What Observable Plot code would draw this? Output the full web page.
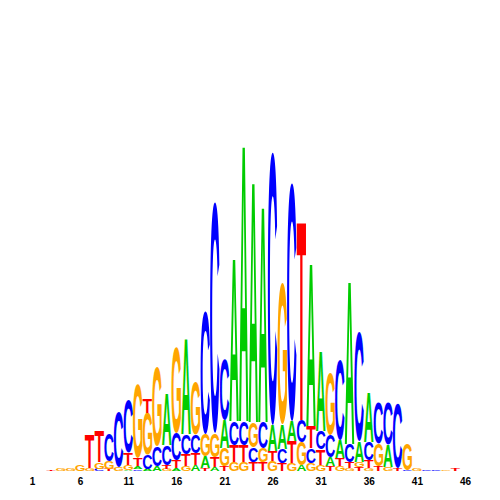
<!DOCTYPE html>
<html><head><meta charset="utf-8">
<script src="https://cdn.jsdelivr.net/npm/d3@7"></script>
<script src="https://cdn.jsdelivr.net/npm/@observablehq/plot@0.6"></script>
<style>body{margin:0;background:#fff}</style>
</head><body><div id="chart"></div>
<script>
const bases = ["A", "C", "G", "T"];
const baseColors = ["#00cc00", "#0000ff", "#ffa500", "#ff0000"];
const positions = [1,2,3,4,5,6,7,8,9,10,11,12,13,14,15,16,17,18,19,20,21,22,23,24,25,26,27,28,29,30,31,32,33,34,35,36,37,38,39,40,41,42,43,44,45,46];
const tickLabels = [1, 6, 11, 16, 21, 26, 31, 36, 41, 46];
// letter heights in bits, listed bottom to top for each position
const stacks = [
  [],
  [],
  [["T", 0.008]],
  [["G", 0.01]],
  [["G", 0.015]],
  [["G", 0.035]],
  [["G", 0.015], ["T", 0.17]],
  [["C", 0.01], ["G", 0.035], ["T", 0.155]],
  [["T", 0.01], ["G", 0.04], ["C", 0.14]],
  [["G", 0.02], ["C", 0.275]],
  [["A", 0.005], ["G", 0.025], ["T", 0.06], ["C", 0.26]],
  [["C", 0.008], ["A", 0.015], ["T", 0.04], ["G", 0.37]],
  [["A", 0.01], ["C", 0.07], ["G", 0.21], ["T", 0.07]],
  [["A", 0.025], ["C", 0.10], ["G", 0.395]],
  [["G", 0.01], ["T", 0.02], ["C", 0.10], ["A", 0.26]],
  [["A", 0.015], ["T", 0.04], ["C", 0.135], ["G", 0.425]],
  [["G", 0.025], ["T", 0.06], ["C", 0.10], ["A", 0.48]],
  [["A", 0.03], ["T", 0.06], ["C", 0.09], ["G", 0.265]],
  [["T", 0.015], ["A", 0.06], ["G", 0.11], ["C", 0.61]],
  [["A", 0.02], ["T", 0.05], ["G", 0.12], ["C", 1.155]],
  [["T", 0.025], ["G", 0.09], ["A", 0.14], ["C", 0.30]],
  [["G", 0.045], ["T", 0.085], ["C", 0.12], ["A", 0.82]],
  [["G", 0.045], ["T", 0.085], ["C", 0.12], ["A", 1.39]],
  [["T", 0.045], ["C", 0.075], ["G", 0.125], ["A", 1.21]],
  [["T", 0.045], ["G", 0.07], ["C", 0.13], ["A", 1.085]],
  [["G", 0.05], ["T", 0.05], ["A", 0.13], ["C", 1.365]],
  [["T", 0.04], ["C", 0.07], ["A", 0.125], ["G", 0.705]],
  [["G", 0.04], ["T", 0.11], ["A", 0.10], ["C", 1.19]],
  [["A", 0.03], ["G", 0.115], ["C", 0.11], ["T", 1.00]],
  [["G", 0.04], ["C", 0.075], ["T", 0.11], ["A", 0.82]],
  [["G", 0.03], ["T", 0.08], ["C", 0.09], ["A", 0.405]],
  [["T", 0.025], ["A", 0.045], ["C", 0.11], ["G", 0.31]],
  [["G", 0.025], ["T", 0.04], ["A", 0.09], ["C", 0.40]],
  [["G", 0.015], ["T", 0.03], ["C", 0.09], ["A", 0.82]],
  [["T", 0.02], ["G", 0.025], ["A", 0.10], ["C", 0.545]],
  [["G", 0.015], ["T", 0.04], ["C", 0.09], ["A", 0.245]],
  [["T", 0.025], ["G", 0.11], ["C", 0.205]],
  [["G", 0.02], ["A", 0.11], ["C", 0.21]],
  [["T", 0.015], ["C", 0.32]],
  [["C", 0.005], ["G", 0.13]],
  [["G", 0.015]],
  [["C", 0.008]],
  [["C", 0.005]],
  [["G", 0.008]],
  [["T", 0.01]],
  []
];

const rows = [];
stacks.forEach((stack, i) => {
  let base0 = 0;
  for (const [base, h] of stack) {
    rows.push({pos: positions[i], base, y1: base0, y2: base0 + h});
    base0 += h;
  }
});

const fontFamily = '"Liberation Sans", Arial, Helvetica, sans-serif';

const chart = Plot.plot({
  width: 500,
  height: 500,
  marginTop: 71,
  marginBottom: 29,
  marginLeft: 32,
  marginRight: 35,
  style: {fontFamily: fontFamily, fontSize: "10px", fontWeight: "bold", background: "#fff"},
  x: {domain: [1, 46], ticks: tickLabels, tickFormat: d => String(d), tickSize: 0, tickPadding: 6, label: null},
  y: {domain: [0, 2], axis: null},
  color: {domain: bases, range: baseColors},
  marks: [
    Plot.rect(rows, {x1: d => d.pos - 0.49, x2: d => d.pos + 0.49, y1: "y1", y2: "y2", fill: "base"})
  ]
});
document.getElementById("chart").append(chart);

// turn each stacked rectangle (placed by Plot's scales) into its letter glyph, stretched to fill it
const canvas = document.createElement("canvas");
const ctx = canvas.getContext("2d");
ctx.font = `bold 100px ${fontFamily}`;
ctx.textAlign = "left";
ctx.textBaseline = "alphabetic";
const metrics = {};
for (const b of bases) {
  const m = ctx.measureText(b);
  metrics[b] = {l: m.actualBoundingBoxLeft, r: m.actualBoundingBoxRight, a: m.actualBoundingBoxAscent, d: m.actualBoundingBoxDescent};
}
const svgNS = "http://www.w3.org/2000/svg";
const rectEls = Array.from(chart.querySelectorAll('g[aria-label="rect"] rect'));
rectEls.forEach((el, k) => {
  const idx = typeof el.__data__ === "number" ? el.__data__ : k;
  const row = rows[idx];
  const rx = +el.getAttribute("x"), ry = +el.getAttribute("y");
  const rw = +el.getAttribute("width"), rh = +el.getAttribute("height");
  const m = metrics[row.base];
  const t = document.createElementNS(svgNS, "text");
  t.textContent = row.base;
  t.setAttribute("x", 0);
  t.setAttribute("y", 0);
  t.setAttribute("text-anchor", "start");
  t.setAttribute("dominant-baseline", "alphabetic");
  t.setAttribute("font-size", "100px");
  t.setAttribute("font-weight", "bold");
  t.setAttribute("font-family", fontFamily);
  t.setAttribute("fill", el.getAttribute("fill"));
  const sx = rw / (m.l + m.r), sy = rh / (m.a + m.d);
  t.setAttribute("transform", `translate(${rx},${ry}) scale(${sx},${sy}) translate(${m.l},${m.a})`);
  el.parentNode.insertBefore(t, el);
  el.remove();
});
</script>
</body></html>
